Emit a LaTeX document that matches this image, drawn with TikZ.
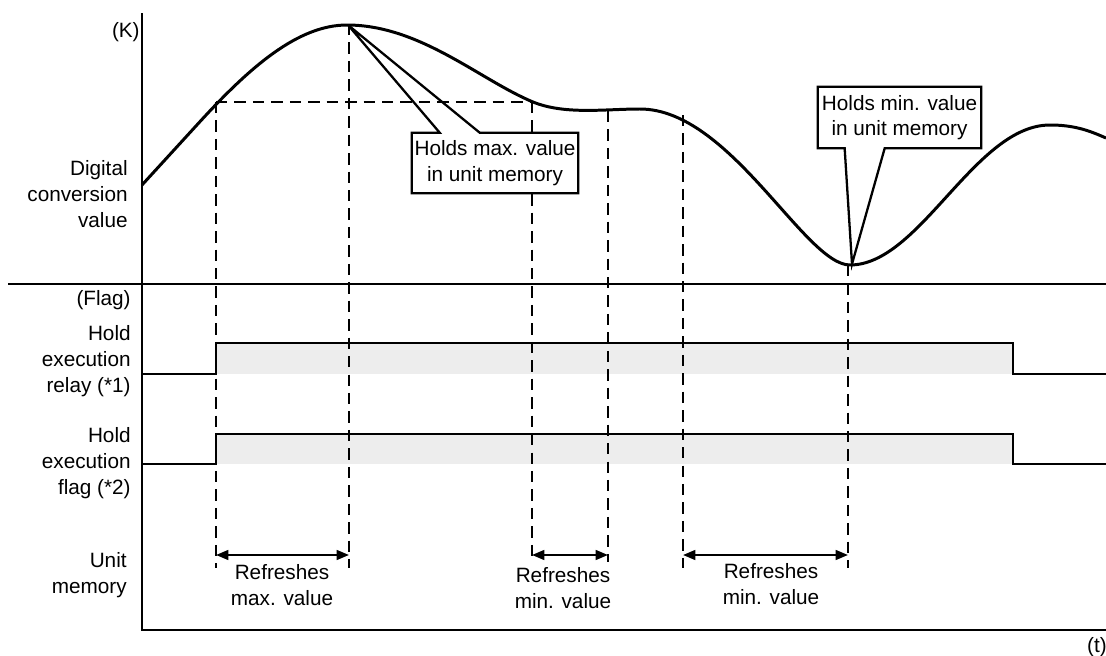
\documentclass[tikz,border=0pt]{standalone}
\usepackage{fontspec}
\setmainfont{Liberation Sans}
\usetikzlibrary{calc}
\usetikzlibrary{arrows.meta}

\begin{document}
\begin{tikzpicture}[x=0.02cm, y=-0.02cm,
        every node/.style={font=\fontsize{11.8}{14.6}\selectfont},
        sidetext/.style={align=right, anchor=east, inner sep=0pt},
        captext/.style={align=center, inner sep=0pt},
        axis/.style={line width=1.5pt},
        wave/.style={line width=1.7pt, line join=round},
        guide/.style={line width=1.4pt, dash pattern=on 6.5pt off 4pt},
        signal/.style={line width=1.3pt},
        held/.style={fill=black!7, draw=none},
        span/.style={line width=1.3pt, {Triangle[length=7pt,width=5.5pt]}-{Triangle[length=7pt,width=5.5pt]}},
        note/.style={rectangle, fill=white, inner sep=0pt, align=center},
        callout/.style={line width=1.3pt, line join=miter}
    ]
        \useasboundingbox (0,0) rectangle (1106,656);

        % Flag signals
        \fill[held] (216,343) rectangle (1013,374);
        \fill[held] (216,434) rectangle (1013,464);
        \draw[signal] (142,374) -- (216,374) -- (216,343) -- (1013,343) -- (1013,374) -- (1106,374);
        \draw[signal] (142,464) -- (216,464) -- (216,434) -- (1013,434) -- (1013,464) -- (1106,464);

        % Guides
        \foreach \n/\x/\t/\b in {a/216/102/568, b/349/24/568, c/532/102/562, d/608/111/562, e/683/115/568, f/848/265/568} {
            \coordinate (\n-top) at (\x,\t);
            \coordinate (\n-bot) at (\x,\b);
            \coordinate (\n-mark) at (\x,555);
            \draw[guide] (\n-top) -- (\n-bot);
        }
        \draw[guide] (a-top) -- (c-top);

        % Digital conversion value
        \draw[wave] (142,185) -- (200,121.6)
            .. controls (250,67) and (298,25) .. (347,25)
            .. controls (420,25) and (480,80) .. (533,102)
            .. controls (565,115) and (605,109) .. (640,109)
            .. controls (730,109) and (805,265) .. (850,265)
            .. controls (920,265) and (975,125) .. (1050,125)
            .. controls (1075,125) and (1090,131) .. (1106,138);

        % Axes
        \draw[axis] (142,13) -- (142,630) -- (1106,630);
        \draw[axis] (8,284) -- (1106,284);

        % Axis and row labels
        \node[sidetext] (kunit) at (140,32) {(K)};
        \node[sidetext] (dval) at (128,194) {Digital\\conversion\\value};
        \node[sidetext] (flagunit) at (131,300) {(Flag)};
        \node[sidetext] (relay) at (131,361) {Hold\\execution\\relay (*1)};
        \node[sidetext] (hflag) at (131,463) {Hold\\execution\\flag (*2)};
        \node[sidetext] (umem) at (127,575) {Unit\\memory};
        \node[captext] (tunit) at (1097,647) {(t)};

        % Callouts
        \coordinate (maxpeak) at (348,25);
        \coordinate (minpeak) at (852,264);
        \node[note, minimum width=3.32cm, minimum height=1.2cm] (maxnote) at (495,163) {Holds max. value\\in unit memory};
        \draw[callout] ($(maxnote.north west)+(28,0)$) -- (maxnote.north west) -- (maxnote.south west) -- (maxnote.south east) -- (maxnote.north east) -- ($(maxnote.north west)+(68,0)$) -- (maxpeak) -- cycle;
        \node[note, minimum width=3.26cm, minimum height=1.22cm] (minnote) at (899.5,117.5) {Holds min. value\\in unit memory};
        \draw[callout] ($(minnote.south west)+(27,0)$) -- (minnote.south west) -- (minnote.north west) -- (minnote.north east) -- (minnote.south east) -- ($(minnote.south west)+(67,0)$) -- (minpeak) -- cycle;

        % Unit memory spans
        \draw[span] (a-mark) -- (b-mark);
        \draw[span] (c-mark) -- (d-mark);
        \draw[span] (e-mark) -- (f-mark);
        \node[captext] (maxref) at (282,585) {Refreshes\\max. value};
        \node[captext] (minref) at (563,588) {Refreshes\\min. value};
        \node[captext] (minref2) at (771,584) {Refreshes\\min. value};
\end{tikzpicture}
\end{document}
